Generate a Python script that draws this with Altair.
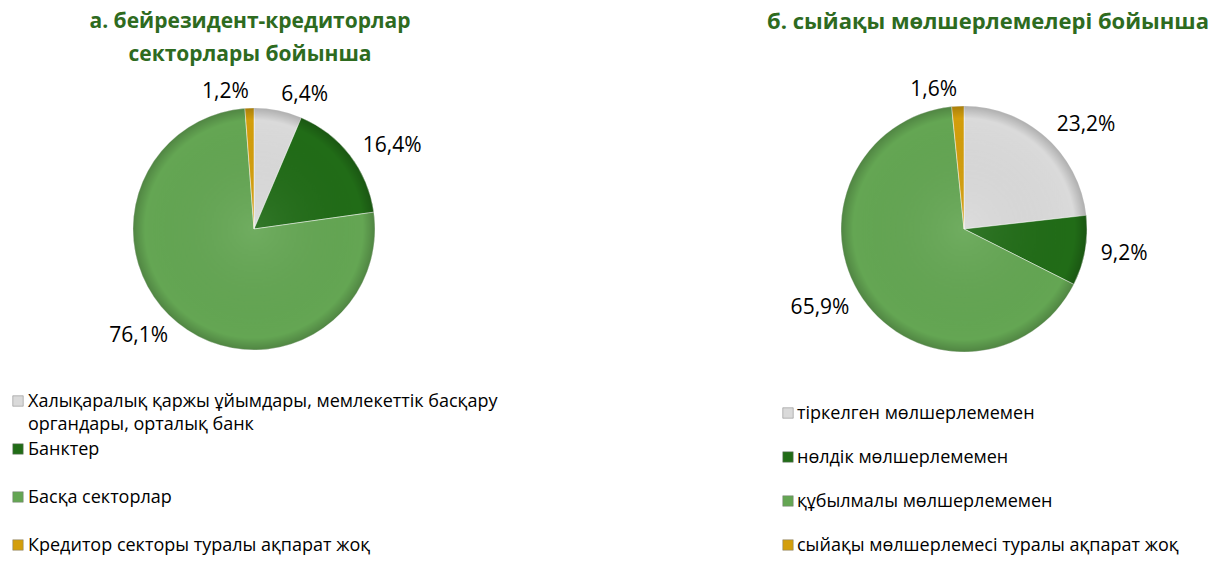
import altair as alt
import pandas as pd

# ---- data ----
title_a = ["а. бейрезидент-кредиторлар", "секторлары бойынша"]
title_b = ["б. сыйақы мөлшерлемелері бойынша"]

cats_a = [
    "Халықаралық қаржы ұйымдары, мемлекеттік басқару\nоргандары, орталық банк",
    "Банктер",
    "Басқа секторлар",
    "Кредитор секторы туралы ақпарат жоқ",
]
vals_a = [6.4, 16.4, 76.1, 1.2]
labels_a = ["6,4%", "16,4%", "76,1%", "1,2%"]

cats_b = [
    "тіркелген мөлшерлемемен",
    "нөлдік мөлшерлемемен",
    "құбылмалы мөлшерлемемен",
    "сыйақы мөлшерлемесі туралы ақпарат жоқ",
]
vals_b = [23.2, 9.2, 65.9, 1.6]
labels_b = ["23,2%", "9,2%", "65,9%", "1,6%"]

# ---- styles ----
COLORS = ["#DADADA", "#216C17", "#64A653", "#D39E0C"]
TITLE_COLOR = "#2E6B1F"
FONT = "Open Sans"
W, H = 1204, 549

color_enc = alt.Color("idx:O", scale=alt.Scale(domain=[0, 1, 2, 3], range=COLORS), legend=None)


def make_df(cats, vals, labels):
    return pd.DataFrame({"cat": cats, "value": vals, "label": labels, "idx": list(range(len(cats)))})


def panel(df, title_lines, title_size, cx, cy, r, leg_sq_x, leg_txt_x, leg_range, title_x):
    base = alt.Chart(df).encode(
        theta=alt.Theta("value:Q", stack="normalize"),
        order=alt.Order("idx:Q"),
    )
    arcs = base.mark_arc(radius=r, stroke="#ffffff", strokeWidth=0.8, strokeOpacity=0.6).encode(
        color=color_enc, x=alt.value(cx), y=alt.value(cy)
    )
    shade = alt.Chart(df.head(1)).mark_arc(
        radius=r,
        theta=0,
        theta2=6.2832,
        fill=alt.RadialGradient(
            gradient="radial",
            x1=0.5, y1=0.5, r1=0, x2=0.5, y2=0.5, r2=0.5,
            stops=[
                alt.GradientStop(offset=0, color="rgba(255,255,255,0.08)"),
                alt.GradientStop(offset=0.9, color="rgba(0,0,0,0)"),
                alt.GradientStop(offset=1, color="rgba(0,0,0,0.2)"),
            ],
        ),
    ).encode(x=alt.value(cx), y=alt.value(cy))

    lab = base.transform_joinaggregate(total="sum(value)").transform_window(
        cum="sum(value)", sort=[alt.SortField("idx")], frame=[None, 0]
    ).transform_calculate(
        mid="(datum.cum - datum.value/2)/datum.total",
        lr="datum.mid < 0.5 ? datum.label : ''",
        ll="datum.mid >= 0.5 ? datum.label : ''",
    )
    txt_r = lab.mark_text(radius=r + 16, align="left", baseline="middle", font=FONT, fontSize=21, color="#000000").encode(
        text="lr:N", detail="idx:O", x=alt.value(cx), y=alt.value(cy)
    )
    txt_l = lab.mark_text(radius=r + 16, align="right", baseline="middle", font=FONT, fontSize=21, color="#000000").encode(
        text="ll:N", detail="idx:O", x=alt.value(cx), y=alt.value(cy)
    )

    title = alt.Chart(pd.DataFrame({"t": ["\n".join(title_lines)]})).mark_text(
        lineBreak="\n", lineHeight=33, align="center", baseline="middle",
        font=FONT, fontSize=title_size, fontWeight="bold", color=TITLE_COLOR,
    ).encode(text="t:N", x=alt.value(title_x), y=alt.value(14))

    yenc = alt.Y("idx:O", scale=alt.Scale(range=leg_range, padding=0), axis=None)
    leg_sq = alt.Chart(df).mark_square(size=110, opacity=1, stroke="#7f7f7f", strokeWidth=0.5).encode(
        x=alt.value(leg_sq_x), y=yenc, color=color_enc
    )
    leg_txt = alt.Chart(df).mark_text(
        lineBreak="\n", lineHeight=23, align="left", baseline="top", dy=-8,
        font=FONT, fontSize=18, color="#000000",
    ).encode(x=alt.value(leg_txt_x), y=yenc, text="cat:N")

    return alt.layer(arcs, shade, txt_r, txt_l, title, leg_sq, leg_txt)


df_a = make_df(cats_a, vals_a, labels_a)
df_b = make_df(cats_b, vals_b, labels_b)

pa = panel(df_a, title_a, 21, 246, 221, 121, 10, 20, [393, 537], 242)
pb = panel(df_b, title_b, 22, 956, 221, 123, 780, 789, [405, 537], 980)

chart = alt.layer(pa, pb).resolve_scale(y="independent", theta="independent").properties(
    width=W, height=H, padding=0,
    autosize=alt.AutoSizeParams(type="fit", contains="padding"),
).configure_view(stroke=None)

chart.save("out.html", embed_options={"renderer": "svg", "actions": False})
